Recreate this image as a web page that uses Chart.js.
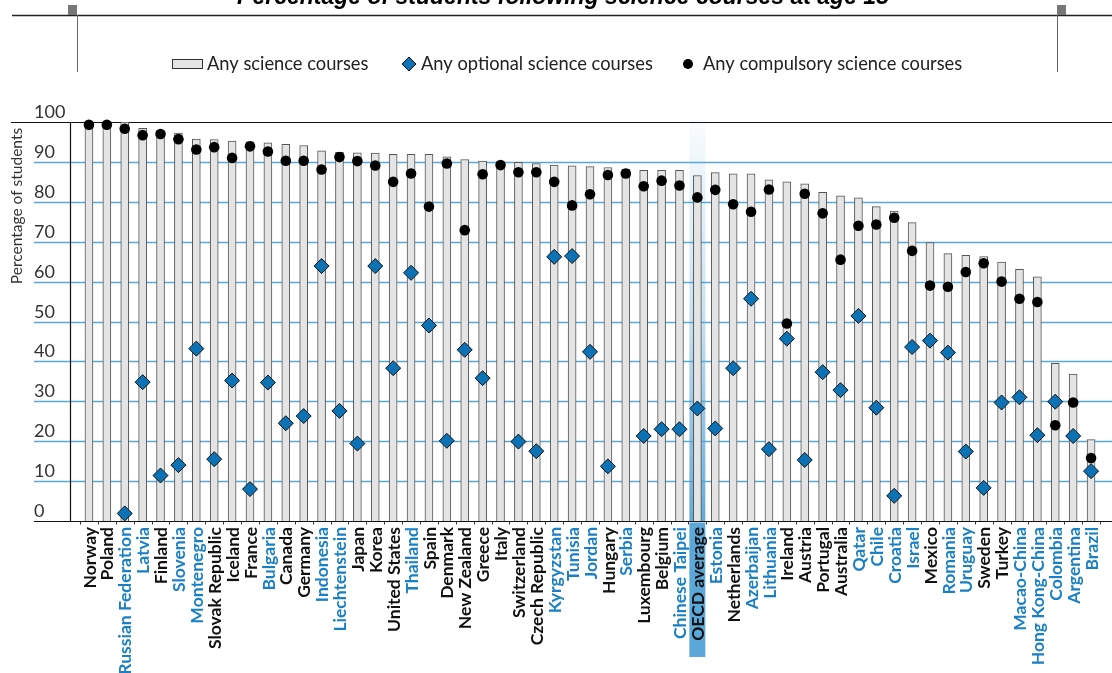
<!DOCTYPE html>
<html><head><meta charset="utf-8">
<script src="https://cdn.jsdelivr.net/npm/chart.js@4"></script>
<style>html,body{margin:0;padding:0;background:#fff;overflow:hidden}canvas{display:block}</style>
</head><body>
<canvas id="c" width="1112" height="673"></canvas>
<script>
const chartTitle = "Percentage of students following science courses at age 15";
const yAxisTitle = "Percentage of students";
const seriesNames = ["Any science courses", "Any optional science courses", "Any compulsory science courses"];
const highlightCategory = "OECD average";

const countries = ["Norway","Poland","Russian Federation","Latvia","Finland","Slovenia","Montenegro","Slovak Republic","Iceland","France","Bulgaria","Canada","Germany","Indonesia","Liechtenstein","Japan","Korea","United States","Thailand","Spain","Denmark","New Zealand","Greece","Italy","Switzerland","Czech Republic","Kyrgyzstan","Tunisia","Jordan","Hungary","Serbia","Luxembourg","Belgium","Chinese Taipei","OECD average","Estonia","Netherlands","Azerbaijan","Lithuania","Ireland","Austria","Portugal","Australia","Qatar","Chile","Croatia","Israel","Mexico","Romania","Uruguay","Sweden","Turkey","Macao-China","Hong Kong-China","Colombia","Argentina","Brazil"];

const partnerCountries = ["Russian Federation","Latvia","Slovenia","Montenegro","Bulgaria","Indonesia","Liechtenstein","Thailand","Kyrgyzstan","Tunisia","Jordan","Serbia","Chinese Taipei","Estonia","Azerbaijan","Lithuania","Qatar","Chile","Croatia","Israel","Romania","Uruguay","Macao-China","Hong Kong-China","Colombia","Argentina","Brazil"];

const anyScience = [100,100,100,98.4,97.8,97.2,95.7,95.6,95.2,95.0,94.8,94.4,94.1,92.8,92.4,92.3,92.2,91.9,91.9,91.9,91.3,90.6,90.2,90.0,89.9,89.6,89.2,89.0,88.8,88.6,88.2,87.9,87.9,87.9,86.6,87.3,87.0,87.0,85.5,85.0,84.5,82.4,81.5,81.0,78.8,77.7,74.8,69.8,67.0,66.6,66.3,64.9,63.1,61.2,39.5,36.8,20.4];

const optionalScience = [null,null,1.9,34.8,11.4,14.0,43.2,15.5,35.2,8.0,34.7,24.5,26.3,63.9,27.6,19.4,63.9,38.3,62.2,49.0,20.1,42.9,35.8,null,19.9,17.5,66.2,66.4,42.4,13.7,null,21.3,23.0,23.0,28.2,23.2,38.3,55.7,18.0,45.7,15.3,37.3,32.8,51.4,28.4,6.3,43.6,45.2,42.2,17.4,8.3,29.7,31.0,21.5,29.9,21.3,12.5];

const compulsoryScience = [99.3,99.3,98.3,96.7,97.0,95.7,93.1,93.7,91.0,93.9,92.6,90.3,90.3,88.1,91.2,90.2,89.1,85.0,87.1,78.8,89.6,72.9,86.9,89.2,87.4,87.4,85.0,79.1,81.9,86.7,87.1,83.9,85.3,84.1,81.1,83.0,79.4,77.5,83.1,49.5,82.0,77.1,65.5,74.0,74.3,76.0,67.7,59.0,58.7,62.4,64.6,60.0,55.7,54.9,24.0,29.7,15.8];

const yTickValues = [0,10,20,30,40,50,60,70,80,90,100];

const FONT = "Lato, 'Open Sans', 'DejaVu Sans', sans-serif";
const BLUE_TEXT = "#1a80c6";
const GRID = "#5aa7da";

const deco = {
  id: 'deco',
  beforeDatasetsDraw(chart) {
    const { ctx, scales: { x, y } } = chart;
    const y0 = y.getPixelForValue(0), y100 = y.getPixelForValue(100);
    ctx.save();
    ctx.strokeStyle = GRID; ctx.lineWidth = 1.5;
    yTickValues.forEach(v => {
      if (v === 0 || v === 100) return;
      const py = Math.round(y.getPixelForValue(v)) + 0.5;
      ctx.beginPath(); ctx.moveTo(34, py); ctx.lineTo(1112, py); ctx.stroke();
    });
    const hi = countries.indexOf(highlightCategory);
    const cx = x.getPixelForValue(hi);
    const g = ctx.createLinearGradient(0, y100, 0, y0);
    g.addColorStop(0, 'rgba(91,165,213,0.04)');
    g.addColorStop(0.5, 'rgba(91,165,213,0.35)');
    g.addColorStop(1, 'rgba(91,165,213,0.95)');
    ctx.fillStyle = g;
    ctx.fillRect(cx - 8, y100 - 2, 16, y0 - y100 + 2);
    ctx.strokeStyle = '#111'; ctx.lineWidth = 1.2;
    const pt = Math.round(y100) + 0.5;
    ctx.beginPath(); ctx.moveTo(11, pt); ctx.lineTo(1112, pt); ctx.stroke();
    ctx.restore();
  },
  afterDatasetsDraw(chart) {
    const { ctx, scales: { x, y } } = chart;
    const y0 = y.getPixelForValue(0), y100 = y.getPixelForValue(100);
    ctx.save();
    const pb = Math.round(y0) + 0.5;
    ctx.strokeStyle = '#111'; ctx.lineWidth = 1.2;
    ctx.beginPath(); ctx.moveTo(34, pb); ctx.lineTo(1112, pb); ctx.stroke();
    ctx.beginPath(); ctx.moveTo(70.5, y100); ctx.lineTo(70.5, y0); ctx.stroke();
    ctx.lineWidth = 1; ctx.strokeStyle = '#333';
    const step = x.getPixelForValue(1) - x.getPixelForValue(0);
    for (let i = 0; i <= countries.length; i++) {
      const px = Math.round(x.getPixelForValue(0) - step / 2 + i * step) + 0.5;
      ctx.beginPath(); ctx.moveTo(px, pb); ctx.lineTo(px, pb + 3); ctx.stroke();
    }
    ctx.fillStyle = '#333'; ctx.font = "18px " + FONT;
    ctx.textAlign = 'left'; ctx.textBaseline = 'alphabetic';
    yTickValues.forEach(v => {
      const py = y.getPixelForValue(v);
      ctx.fillText(String(v), 34, py - 4);
    });
    ctx.save();
    ctx.translate(22, 206); ctx.rotate(-Math.PI / 2);
    ctx.font = "15.5px " + FONT; ctx.textAlign = 'center'; ctx.textBaseline = 'alphabetic';
    ctx.fillStyle = '#333';
    ctx.fillText(yAxisTitle, 0, 0);
    ctx.restore();
    const hi = countries.indexOf(highlightCategory);
    const hx = x.getPixelForValue(hi);
    ctx.fillStyle = '#5ba7d7';
    ctx.fillRect(hx - 8, pb + 1, 16, 656 - pb);
    ctx.font = "bold 17.5px " + FONT;
    countries.forEach((name, i) => {
      const px = x.getPixelForValue(i);
      ctx.save();
      ctx.translate(px + 1, 527); ctx.rotate(-Math.PI / 2);
      ctx.textAlign = 'right'; ctx.textBaseline = 'middle';
      ctx.fillStyle = partnerCountries.includes(name) ? BLUE_TEXT : '#111';
      ctx.fillText(name, 0, 0);
      ctx.restore();
    });
    const ly = 64;
    ctx.font = "18.3px " + FONT; ctx.textBaseline = 'middle'; ctx.textAlign = 'left';
    ctx.fillStyle = '#e4e4e4'; ctx.fillRect(172.5, ly - 4.5, 30, 9);
    ctx.strokeStyle = '#333'; ctx.lineWidth = 1; ctx.strokeRect(172.5, ly - 4.5, 30, 9);
    ctx.fillStyle = '#222'; ctx.fillText(seriesNames[0], 207, ly);
    ctx.beginPath(); ctx.moveTo(409, ly - 7); ctx.lineTo(416, ly); ctx.lineTo(409, ly + 7); ctx.lineTo(402, ly); ctx.closePath();
    ctx.fillStyle = '#0b72b5'; ctx.fill(); ctx.strokeStyle = '#111'; ctx.stroke();
    ctx.fillStyle = '#222'; ctx.fillText(seriesNames[1], 421, ly);
    ctx.beginPath(); ctx.arc(688, ly, 5, 0, Math.PI * 2); ctx.fillStyle = '#000'; ctx.fill();
    ctx.fillStyle = '#222'; ctx.fillText(seriesNames[2], 703, ly);
    ctx.font = "italic bold 23px 'Liberation Sans', Arial, sans-serif";
    ctx.textAlign = 'center'; ctx.textBaseline = 'alphabetic'; ctx.fillStyle = '#000';
    ctx.fillText(chartTitle, 563, 4);
    ctx.strokeStyle = '#222'; ctx.lineWidth = 1.5;
    ctx.beginPath(); ctx.moveTo(12, 15.5); ctx.lineTo(1112, 15.5); ctx.stroke();
    ctx.fillStyle = '#777';
    ctx.fillRect(68, 5, 9, 10); ctx.fillRect(1057, 5, 9, 10);
    ctx.strokeStyle = '#666'; ctx.lineWidth = 1;
    ctx.beginPath(); ctx.moveTo(77.5, 15); ctx.lineTo(77.5, 72); ctx.stroke();
    ctx.beginPath(); ctx.moveTo(1057.5, 15); ctx.lineTo(1057.5, 72); ctx.stroke();
    ctx.restore();
  }
};

new Chart(document.getElementById('c'), {
  type: 'bar',
  data: {
    labels: countries,
    datasets: [
      { type: 'line', label: seriesNames[1], data: optionalScience, showLine: false,
        pointStyle: 'rectRot', pointRadius: 7.5, pointBackgroundColor: '#0b72b5',
        pointBorderColor: '#111', pointBorderWidth: 1, order: 0, clip: false },
      { type: 'line', label: seriesNames[2], data: compulsoryScience, showLine: false,
        pointStyle: 'circle', pointRadius: 5.3, pointBackgroundColor: '#000',
        pointBorderColor: '#000', pointBorderWidth: 0, order: 1, clip: false },
      { type: 'bar', label: seriesNames[0], data: anyScience, backgroundColor: '#e4e4e4',
        borderColor: '#555', borderWidth: 1, barThickness: 8, order: 2 }
    ]
  },
  options: {
    responsive: false,
    devicePixelRatio: 1,
    animation: false,
    layout: { padding: { left: 80, right: 12, top: 122, bottom: 152 } },
    plugins: { legend: { display: false }, tooltip: { enabled: false }, title: { display: false } },
    scales: {
      x: { display: false, offset: true },
      y: { display: false, min: 0, max: 100 }
    }
  },
  plugins: [deco]
});
</script>
</body></html>
